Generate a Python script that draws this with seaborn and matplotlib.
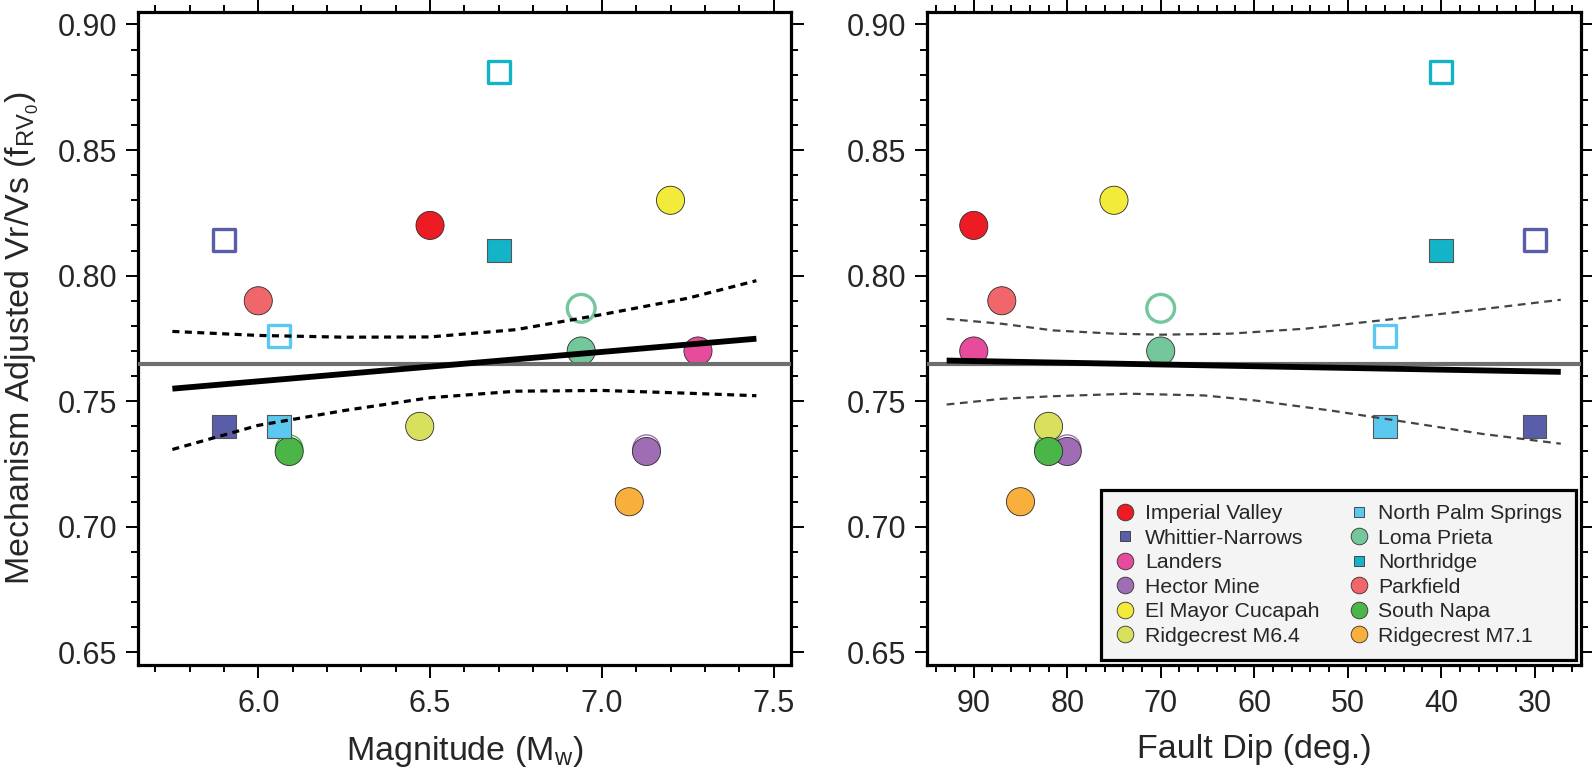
import numpy as np
import pandas as pd
import matplotlib
matplotlib.use("Agg")
import matplotlib.pyplot as plt
from matplotlib.lines import Line2D
from matplotlib.ticker import MultipleLocator
import seaborn as sns

# ---- data ----
events = ['Imperial Valley', 'Whittier-Narrows', 'Landers', 'Hector Mine',
          'El Mayor Cucapah', 'Ridgecrest M6.4', 'North Palm Springs',
          'Loma Prieta', 'Northridge', 'Parkfield', 'South Napa', 'Ridgecrest M7.1']
event_colors = ['#ED1C24', '#5A5EA9', '#E64B9C', '#9E6DB3', '#F3EB3A', '#D9E05E',
                '#5BC9EF', '#74C69B', '#13B4C7', '#F0666A', '#4BB548', '#F9AF3B']
event_marker = ['o', 's', 'o', 'o', 'o', 'o', 's', 'o', 's', 'o', 'o', 'o']
magnitude = [6.50, 5.90, 7.28, 7.13, 7.20, 6.47, 6.06, 6.94, 6.70, 6.00, 6.09, 7.08]
dip = [90, 30, 90, 80, 75, 82, 46, 70, 40, 87, 82, 85]
f_rv0 = [0.820, 0.740, 0.770, 0.730, 0.830, 0.740, 0.740, 0.770, 0.810, 0.790, 0.730, 0.710]
# open symbols (NaN = no open symbol)
f_rv0_open = [np.nan, 0.814, np.nan, 0.7312, np.nan, np.nan, 0.776, 0.787, 0.881,
              np.nan, 0.7312, np.nan]

mean_f = 0.765

mag_fit_x = [5.75, 7.45]
mag_fit_y = [0.7550, 0.7749]
mag_ci_x = [5.75, 6.00, 6.25, 6.50, 6.75, 7.00, 7.25, 7.45]
mag_ci_upper = [0.7778, 0.7762, 0.7755, 0.7756, 0.7785, 0.7845, 0.7910, 0.7980]
mag_ci_lower = [0.7308, 0.7404, 0.7463, 0.7514, 0.7540, 0.7543, 0.7532, 0.7522]

dip_fit_x = [92.9, 27.2]
dip_fit_y = [0.7662, 0.7617]
dip_ciu_x = [92.9, 86.9, 81.5, 75.0, 69.9, 62.6, 54.5, 46.4, 38.2, 27.2]
dip_ci_upper = [0.7828, 0.7808, 0.7782, 0.7769, 0.7765, 0.7769, 0.7789, 0.7822, 0.7855, 0.7904]
dip_cil_x = [92.9, 86.9, 81.5, 73.4, 65.3, 59.9, 51.8, 43.7, 35.6, 27.2]
dip_ci_lower = [0.7487, 0.7510, 0.7520, 0.7530, 0.7523, 0.7503, 0.7463, 0.7417, 0.7370, 0.7331]

df = pd.DataFrame({'event': events, 'Mw': magnitude, 'dip': dip,
                   'f': f_rv0, 'f_open': f_rv0_open, 'shape': event_marker})
palette = dict(zip(events, event_colors))

sns.set_theme(style="ticks")
plt.rcParams['font.family'] = ['Liberation Sans', 'DejaVu Sans']
plt.rcParams['mathtext.default'] = 'regular'

fig = plt.figure(figsize=(15.92, 7.72), dpi=100)
ax1 = fig.add_axes([0.0867, 0.1386, 0.410, 0.846])
ax2 = fig.add_axes([0.5823, 0.1386, 0.411, 0.846])


def draw_points(ax, xcol):
    # open symbols first, behind the filled ones
    for _, r in df[df.f_open.notna()].iterrows():
        thin = abs(r.f_open - r.f) < 0.005
        s = (400 if r['shape'] == 'o' else 250) if not thin else 380
        ax.scatter(r[xcol], r.f_open, marker=r['shape'], s=s, facecolors='none',
                   edgecolors=palette[r.event], linewidths=1.0 if thin else 2.4, zorder=2)
    circ = df[df['shape'] == 'o']
    sq = df[df['shape'] == 's']
    sns.scatterplot(data=circ, x=xcol, y='f', hue='event', palette=palette, marker='o',
                    s=410, edgecolor='#2b2b2b', linewidth=0.6, legend=False, ax=ax, zorder=3)
    sns.scatterplot(data=sq, x=xcol, y='f', hue='event', palette=palette, marker='s',
                    s=290, edgecolor='#555555', linewidth=0.8, legend=False, ax=ax, zorder=3)


def style_axes(ax):
    ax.set_ylim(0.645, 0.905)
    ax.yaxis.set_major_locator(MultipleLocator(0.05))
    ax.yaxis.set_minor_locator(MultipleLocator(0.01))
    ax.yaxis.set_major_formatter(matplotlib.ticker.FormatStrFormatter('%.2f'))
    ax.tick_params(which='both', direction='out', top=True, right=True,
                   width=1.4, color='black', labelsize=22)
    ax.tick_params(which='major', length=9, pad=6)
    ax.tick_params(which='minor', length=5)
    ax.tick_params(axis='x', which='major', pad=8)
    for sp in ax.spines.values():
        sp.set_linewidth(2.3)
        sp.set_color('black')
        sp.set_visible(True)


# ---- left: magnitude ----
draw_points(ax1, 'Mw')
ax1.axhline(mean_f, color='#6e6e6e', lw=3.0, zorder=4)
ax1.plot(mag_fit_x, mag_fit_y, color='black', lw=4.2, solid_capstyle='butt', zorder=5)
ax1.plot(mag_ci_x, mag_ci_upper, color='black', lw=2.3, ls=(0, (2.2, 1.7)), zorder=5)
ax1.plot(mag_ci_x, mag_ci_lower, color='black', lw=2.3, ls=(0, (2.2, 1.7)), zorder=5)
ax1.set_xlim(5.65, 7.55)
ax1.xaxis.set_major_locator(MultipleLocator(0.5))
ax1.xaxis.set_minor_locator(MultipleLocator(0.1))
ax1.xaxis.set_major_formatter(matplotlib.ticker.FormatStrFormatter('%.1f'))
style_axes(ax1)
ax1.set_xlabel('Magnitude (M$_w$)', fontsize=24.5, labelpad=11)
ax1.set_ylabel('Mechanism Adjusted Vr/Vs (f$_{RV_0}$)', fontsize=24.5, labelpad=12)

# ---- right: fault dip ----
draw_points(ax2, 'dip')
ax2.axhline(mean_f, color='#6e6e6e', lw=3.0, zorder=4)
ax2.plot(dip_fit_x, dip_fit_y, color='black', lw=4.2, solid_capstyle='butt', zorder=5)
ax2.plot(dip_ciu_x, dip_ci_upper, color='#444444', lw=1.6, ls=(0, (3.5, 2.5)), zorder=5)
ax2.plot(dip_cil_x, dip_ci_lower, color='#444444', lw=1.6, ls=(0, (3.5, 2.5)), zorder=5)
ax2.set_xlim(95, 25)
ax2.xaxis.set_major_locator(MultipleLocator(10))
ax2.xaxis.set_minor_locator(MultipleLocator(2))
style_axes(ax2)
ax2.set_xlabel('Fault Dip (deg.)', fontsize=24.5, labelpad=11)
ax2.set_ylabel('')

handles = []
for ev, c, m in zip(events, event_colors, event_marker):
    handles.append(Line2D([], [], ls='None', marker=m, markersize=12 if m == 'o' else 7,
                          markerfacecolor=c, markeredgecolor='#333333', markeredgewidth=0.6,
                          label=ev))
leg = ax2.legend(handles=handles, ncol=2, loc='lower right', bbox_to_anchor=(1.0, 0.0),
                 fontsize=15.3, frameon=True, fancybox=False, framealpha=1,
                 facecolor='#f4f4f4', edgecolor='black', handlelength=1.0,
                 handletextpad=0.42, labelspacing=0.26, columnspacing=1.35,
                 borderpad=0.65, borderaxespad=0.25)
leg.get_frame().set_linewidth(2.3)
leg.set_zorder(10)

fig.savefig('out.png', dpi=100)
